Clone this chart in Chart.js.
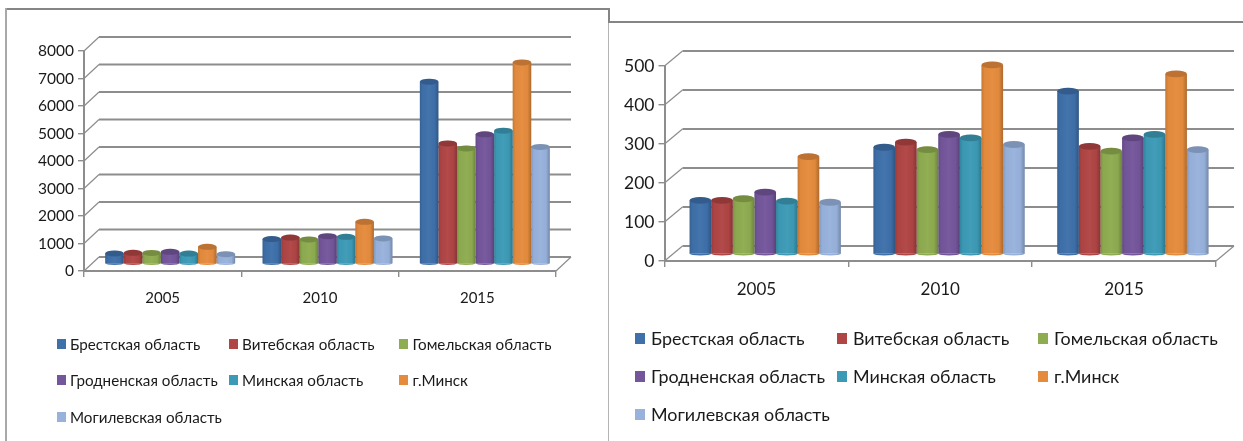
<!DOCTYPE html>
<html lang="ru">
<head>
<meta charset="utf-8">
<title>Области</title>
<script src="https://cdn.jsdelivr.net/npm/chart.js@4"></script>
<style>
    html, body { margin: 0; padding: 0; background: #fff; overflow: hidden; }
    body { position: relative; width: 1243px; height: 441px; font-family: Lato, sans-serif; color: #1a1a1a; }
    canvas { position: absolute; top: 0; filter: blur(0.4px); }
    .line { position: absolute; background: #858585; }
    .legend-item { position: absolute; white-space: nowrap; filter: blur(0.3px); }
    .legend-item i { position: absolute; left: 0; display: block; }
</style>
</head>
<body>
<div class="line" style="left:5px;top:8px;width:604px;height:2px"></div>
<div class="line" style="left:5px;top:8px;width:2px;height:433px;background:#a8a8a8"></div>
<div class="line" style="left:608px;top:8px;width:2px;height:14px"></div>
<div class="line" style="left:608px;top:22px;width:1px;height:419px;background:#b4b4b4"></div>
<div class="line" style="left:608px;top:21px;width:635px;height:2px"></div>
<canvas id="leftChart" width="608" height="441" style="left:0"></canvas>
<canvas id="rightChart" width="635" height="441" style="left:608px"></canvas>

<script>
const years = ['2005', '2010', '2015'];
const regions = ['Брестская область', 'Витебская область', 'Гомельская область', 'Гродненская область', 'Минская область', 'г.Минск', 'Могилевская область'];
const colors = ['#3f70aa', '#b04545', '#8eac50', '#74569b', '#3c9ab6', '#e58b3d', '#98b2dc'];

// left chart, one array per region
const leftBrest = [383, 908, 6628];
const leftVitebsk = [408, 963, 4383];
const leftGomel = [403, 893, 4203];
const leftGrodno = [443, 1013, 4718];
const leftMinskRegion = [378, 988, 4848];
const leftMinskCity = [623, 1533, 7328];
const leftMogilev = [358, 928, 4258];

// right chart
const rightBrest = [139, 275, 419];
const rightVitebsk = [139, 288, 277];
const rightGomel = [143, 269, 265];
const rightGrodno = [160, 308, 299];
const rightMinskRegion = [137, 299, 308];
const rightMinskCity = [251, 486, 463];
const rightMogilev = [134, 282, 269];

const leftSeries = [leftBrest, leftVitebsk, leftGomel, leftGrodno, leftMinskRegion, leftMinskCity, leftMogilev];
const rightSeries = [rightBrest, rightVitebsk, rightGomel, rightGrodno, rightMinskRegion, rightMinskCity, rightMogilev];

// 3D look: back wall, floor, then bars moved half way into the depth
const fake3d = {
    id: 'fake3d',
    beforeDatasetsDraw(chart, args, opts) {
        const ctx = chart.ctx;
        const area = chart.chartArea;
        const yScale = chart.scales.y;
        ctx.save();
        ctx.strokeStyle = '#8d8d8d';
        yScale.ticks.forEach(t => {
            const y = yScale.getPixelForValue(t.value);
            ctx.lineWidth = 1.2;
            ctx.beginPath();
            ctx.moveTo(area.left, y);
            ctx.lineTo(area.left + opts.wallX, y - opts.wallY);
            ctx.stroke();
            ctx.lineWidth = 2;
            ctx.beginPath();
            ctx.moveTo(area.left + opts.wallX, y - opts.wallY);
            ctx.lineTo(area.right + opts.wallX, y - opts.wallY);
            ctx.stroke();
        });
        // right edge of the floor
        ctx.lineWidth = 1.2;
        ctx.beginPath();
        ctx.moveTo(area.right, area.bottom);
        ctx.lineTo(area.right + opts.wallX, area.bottom - opts.wallY);
        ctx.stroke();
        ctx.restore();

        ctx.save();
        ctx.translate(opts.barX, -opts.barY);
    },
    afterDatasetsDraw(chart, args, opts) {
        const ctx = chart.ctx;
        chart.data.datasets.forEach((ds, i) => {
            chart.getDatasetMeta(i).data.forEach(bar => {
                const half = bar.width / 2;
                const shade = ctx.createLinearGradient(bar.x - half, 0, bar.x + half, 0);
                shade.addColorStop(0, 'rgba(0,0,0,0.14)');
                shade.addColorStop(0.14, 'rgba(0,0,0,0.02)');
                shade.addColorStop(0.5, 'rgba(255,255,255,0.03)');
                shade.addColorStop(0.8, 'rgba(0,0,0,0.02)');
                shade.addColorStop(1, 'rgba(0,0,0,0.24)');

                ctx.beginPath();
                ctx.ellipse(bar.x, bar.base, half, opts.baseY, 0, 0, Math.PI);
                ctx.fillStyle = ds.backgroundColor;
                ctx.fill();

                ctx.beginPath();
                ctx.moveTo(bar.x - half, bar.y);
                ctx.lineTo(bar.x + half, bar.y);
                ctx.lineTo(bar.x + half, bar.base);
                ctx.ellipse(bar.x, bar.base, half, opts.baseY, 0, 0, Math.PI);
                ctx.closePath();
                ctx.fillStyle = shade;
                ctx.fill();

                ctx.beginPath();
                ctx.ellipse(bar.x, bar.y, half, opts.capY, 0, 0, Math.PI * 2);
                ctx.fillStyle = ds.backgroundColor;
                ctx.fill();
                ctx.fillStyle = 'rgba(0,0,0,0.18)';
                ctx.fill();
            });
        });
        ctx.restore();
    }
};

function makeChart(id, series, p) {
    return new Chart(document.getElementById(id), {
        type: 'bar',
        data: {
            labels: years,
            datasets: series.map((values, i) => ({
                label: regions[i],
                data: values,
                backgroundColor: colors[i],
                categoryPercentage: p.groupWidth,
                barPercentage: 1,
                clip: false
            }))
        },
        options: {
            responsive: false,
            animation: false,
            layout: { padding: { left: 0, top: p.top, right: p.right, bottom: 0 } },
            plugins: {
                legend: { display: false },
                tooltip: { enabled: false },
                fake3d: p.depth
            },
            scales: {
                x: {
                    afterFit(scale) { scale.height = p.bottom; },
                    grid: { offset: true, drawOnChartArea: false, color: '#8d8d8d', lineWidth: 1.4, tickLength: 6 },
                    border: { color: '#8d8d8d', width: 2 },
                    ticks: { color: '#1a1a1a', font: { family: 'Lato', size: p.xFont }, padding: p.xPad, maxRotation: 0 }
                },
                y: {
                    min: 0,
                    max: p.max,
                    afterFit(scale) { scale.width = p.axisX; },
                    grid: { drawOnChartArea: false, color: '#8d8d8d', lineWidth: 1.4, tickLength: 6 },
                    border: { color: '#8d8d8d', width: 2 },
                    ticks: { stepSize: p.step, color: '#1a1a1a', font: { family: 'Lato', size: p.yFont }, padding: p.yPad, callback: v => String(v) }
                }
            }
        },
        plugins: [fake3d]
    });
}

makeChart('leftChart', leftSeries, {
    top: 51, right: 52, bottom: 170, axisX: 84, max: 8000, step: 1000, groupWidth: 0.826,
    xFont: 15, yFont: 15.5, xPad: 12, yPad: 4,
    depth: { wallX: 15, wallY: 14, barX: 7.5, barY: 7, capY: 3, baseY: 1.6 }
});
makeChart('rightChart', rightSeries, {
    top: 66, right: 27, bottom: 180, axisX: 56.5, max: 500, step: 100, groupWidth: 0.823,
    xFont: 17, yFont: 17.5, xPad: 12, yPad: 4,
    depth: { wallX: 18, wallY: 15, barX: 8.8, barY: 6.5, capY: 3.4, baseY: 1.6 }
});

// legends sit in three uneven columns, so they are plain positioned text
function makeLegend(columns, rows, fontSize, boxW, boxH, textGap) {
    regions.forEach((name, i) => {
        const item = document.createElement('div');
        item.className = 'legend-item';
        item.style.left = columns[i % 3] + 'px';
        item.style.top = (rows[Math.floor(i / 3)] - 12) + 'px';
        item.style.height = '24px';
        item.style.lineHeight = '24px';
        item.style.paddingLeft = textGap + 'px';
        item.style.fontSize = fontSize + 'px';
        item.textContent = name;
        const box = document.createElement('i');
        box.style.width = boxW + 'px';
        box.style.height = boxH + 'px';
        box.style.top = (12 - boxH / 2) + 'px';
        box.style.background = colors[i];
        item.appendChild(box);
        document.body.appendChild(item);
    });
}
makeLegend([56.5, 228.5, 399], [344, 380, 417], 15.2, 9, 10, 13.5);
makeLegend([635, 837, 1038], [338, 376, 414], 17.9, 10, 11, 16);
</script>
</body>
</html>
